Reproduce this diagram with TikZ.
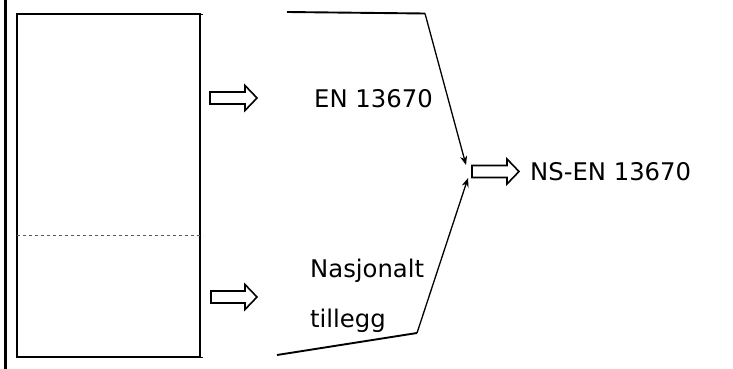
\documentclass[tikz,border=0pt]{standalone}
\usepackage{fontspec}
\setmainfont{DejaVu Sans}
\usetikzlibrary{arrows.meta}
\tikzset{
  lbl/.style={inner sep=0pt, font=\fontsize{24.3}{28}\selectfont, anchor=base west},
  frame/.style={line width=2.2pt},
  hollow/.style={line width=1.6pt, fill=white, line join=miter},
  feed/.style={line width=1.9pt},
  flow/.style={line width=1.3pt, -{Stealth[length=9pt,width=7pt]}}
}
\newcommand{\holarrow}[4]{% x0, xhead, xtip, yc
  \draw[hollow] (#1,#4-6) -- (#2,#4-6) -- (#2,#4-12.5) -- (#3,#4) -- (#2,#4+12.5) -- (#2,#4+6) -- (#1,#4+6) -- cycle;}
\begin{document}
\begin{tikzpicture}[x=1pt,y=-1pt]
\useasboundingbox (0,0) rectangle (733,369);
% left border line
\draw[frame] (5.5,0) -- (5.5,369);
% document box
\draw[frame] (17,14) rectangle (200,357);
\draw[line width=0.6pt] (200,14) -- (203,14) (200,357) -- (203,357);
\draw[dashed, line width=0.8pt, gray!70!black] (17,235) -- (203,235);
% hollow arrows
\holarrow{210}{245}{257}{98}
\holarrow{211}{245}{257}{297}
\holarrow{472}{507}{519}{171.5}
% labels
\node[lbl] (en) at (314,107) {EN 13670};
\node[lbl] (nas) at (310,277) {Nasjonalt};
\node[lbl] (till) at (310,327) {tillegg};
\node[lbl] (ns) at (530,180) {NS-EN 13670};
% connectors
\coordinate (ta) at (287,12);
\coordinate (tb) at (425,13.5);
\coordinate (tt) at (466,165);
\coordinate (ba) at (277,355);
\coordinate (bb) at (417,333);
\coordinate (bt) at (468,178);
\draw[feed] (ta) -- (tb);
\draw[flow] (tb) -- (tt);
\draw[feed] (ba) -- (bb);
\draw[flow] (bb) -- (bt);
\end{tikzpicture}
\end{document}
